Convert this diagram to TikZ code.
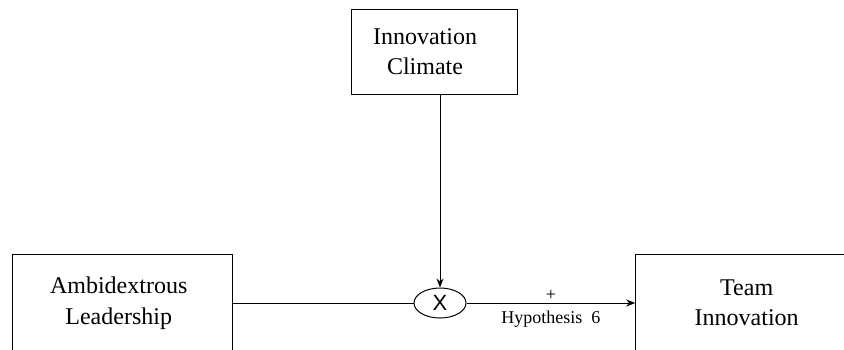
\documentclass[tikz,border=0pt]{standalone}
\usepackage{fontspec}
\setmainfont{Liberation Serif}
\newfontfamily\xsans{Liberation Sans}
\usetikzlibrary{shapes.geometric,arrows.meta}
\begin{document}
\begin{tikzpicture}[x=1pt,y=-1pt,
  box/.style={draw, line width=1pt, inner sep=0pt},
  boxtext/.style={align=center, inner sep=0pt, font=\fontsize{24}{30.5}\selectfont},
  link/.style={line width=1pt},
  arr/.style={link, -{Stealth[length=9pt,width=7pt]}},
  lbl/.style={font=\fontsize{18}{22}\selectfont, inner sep=2pt}]
\useasboundingbox (0,0) rectangle (844,349);
\clip (0,0) rectangle (844,349);
% variables
\node[box, minimum width=166pt, minimum height=85pt] (clim) at (434,51.5) {};
\node[boxtext] (climtxt) at ([xshift=-9pt]clim.center) {Innovation\\Climate};
\node[box, minimum width=220pt, minimum height=98pt] (lead) at (122.7,303) {};
\node[boxtext] (leadtxt) at ([xshift=-4pt]lead.center) {Ambidextrous\\Leadership};
\node[box, minimum width=222pt, minimum height=98pt] (team) at (746.7,303) {};
\node[boxtext] (teamtxt) at (team.center) {Team\\Innovation};
% interaction term
\node[ellipse, draw, line width=1pt, minimum width=52pt, minimum height=30pt, inner sep=0pt,
  font=\xsans\fontsize{22}{22}\selectfont] (mult) at (440,303) {X};
% paths
\draw[link] (lead.east) -- (mult.west);
\draw[arr] (clim.south -| mult.north) -- (mult.north);
\draw[arr] (mult.east) -- (team.west)
  node[midway, above, lbl] (plus) {+}
  node[midway, below=6pt, lbl] (hyp) {Hypothesis\ \ 6};
\end{tikzpicture}
\end{document}
